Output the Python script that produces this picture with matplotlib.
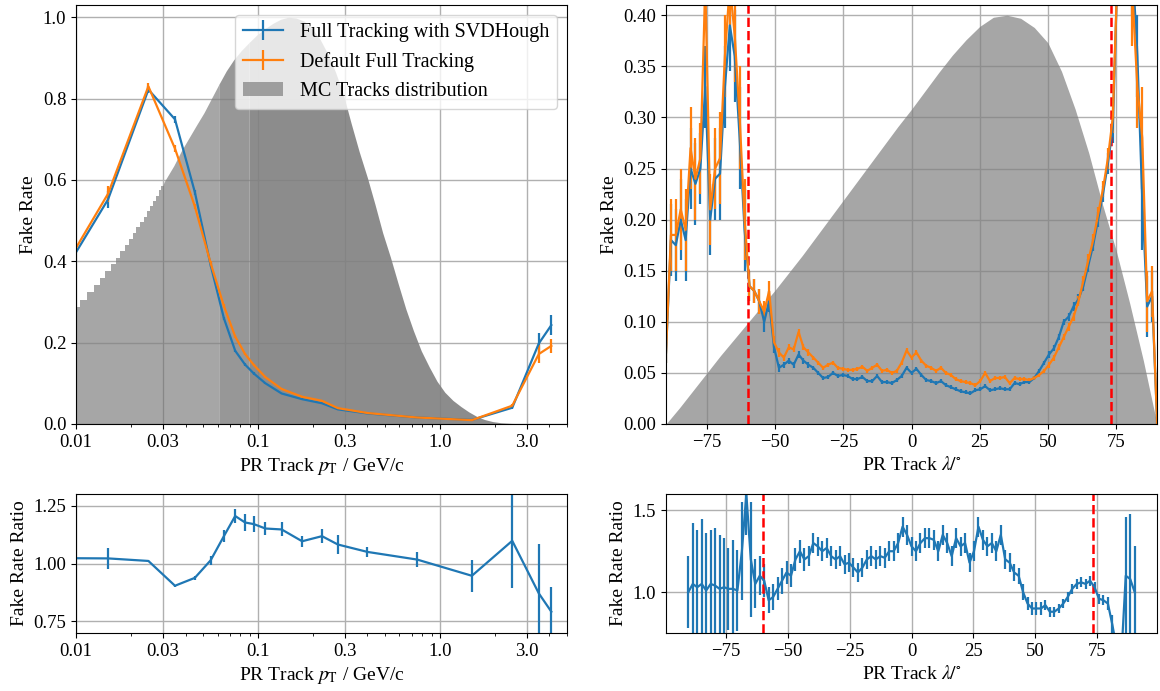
import numpy as np
import matplotlib
matplotlib.use("Agg")
import matplotlib.pyplot as plt
from matplotlib.patches import Patch
from matplotlib.ticker import FixedLocator, NullFormatter, LogLocator

# ---------------------------------------------------------------- data
# Fake rate vs transverse momentum (bin centres in GeV/c)
pt_centers = [0.005, 0.015, 0.025, 0.035, 0.045, 0.055, 0.065, 0.075, 0.085,
              0.095, 0.11, 0.135, 0.175, 0.225, 0.275, 0.4, 0.75, 1.5, 2.5,
              3.5, 4.1]
pt_fake_svd = [0.200, 0.552, 0.822, 0.749, 0.570, 0.390, 0.260, 0.180, 0.146,
               0.124, 0.100, 0.075, 0.061, 0.051, 0.036, 0.026, 0.016, 0.010,
               0.040, 0.198, 0.243]
pt_fake_svd_err = [0.010, 0.020, 0.008, 0.008, 0.006, 0.005, 0.004, 0.003,
                   0.003, 0.003, 0.002, 0.002, 0.002, 0.002, 0.002, 0.001,
                   0.001, 0.001, 0.004, 0.025, 0.025]
pt_fake_def = [0.205, 0.566, 0.830, 0.677, 0.535, 0.395, 0.290, 0.215, 0.172,
               0.145, 0.115, 0.086, 0.067, 0.057, 0.039, 0.027, 0.016, 0.0095,
               0.045, 0.172, 0.192]
pt_fake_def_err = [0.010, 0.020, 0.008, 0.008, 0.006, 0.005, 0.004, 0.003,
                   0.003, 0.003, 0.002, 0.002, 0.002, 0.002, 0.002, 0.001,
                   0.001, 0.001, 0.004, 0.022, 0.018]
pt_ratio = [1.024, 1.022, 1.011, 0.904, 0.938, 1.014, 1.118, 1.205, 1.177,
            1.170, 1.151, 1.147, 1.096, 1.118, 1.082, 1.050, 1.017, 0.947,
            1.098, 0.871, 0.792]
pt_ratio_err = [0.04, 0.045, 0.005, 0.005, 0.010, 0.020, 0.025, 0.032, 0.036,
                0.034, 0.030, 0.030, 0.023, 0.030, 0.040, 0.022, 0.034, 0.070,
                0.205, 0.215, 0.108]

# MC track pT distribution (normalised to its maximum)
mc_pt_fine_centers = [0.010, 0.011, 0.012, 0.013, 0.014, 0.015, 0.016, 0.017,
                      0.018, 0.019, 0.020, 0.021, 0.022, 0.023, 0.024, 0.025,
                      0.026, 0.027, 0.028, 0.029, 0.030]
mc_pt_fine_height = [0.287, 0.306, 0.325, 0.342, 0.358, 0.375, 0.393, 0.409,
                     0.425, 0.440, 0.456, 0.470, 0.484, 0.497, 0.510, 0.523,
                     0.536, 0.549, 0.561, 0.574, 0.586]
mc_pt_fine_width = 0.001
mc_pt_knots = [0.0305, 0.0345, 0.038, 0.042, 0.046, 0.0505, 0.0555, 0.061,
               0.067, 0.0735, 0.081, 0.0895, 0.099, 0.1095, 0.121, 0.1335,
               0.147, 0.162, 0.18, 0.2, 0.22, 0.242, 0.267, 0.295, 0.325,
               0.36, 0.40, 0.44, 0.485, 0.535, 0.59, 0.65, 0.715, 0.79,
               0.875, 0.965, 1.065, 1.18, 1.305, 1.44, 1.59, 1.76, 1.95,
               2.17, 2.45, 2.8, 3.2]
mc_pt_knot_height = [0.595, 0.635, 0.672, 0.705, 0.735, 0.765, 0.800, 0.835,
                     0.868, 0.895, 0.918, 0.938, 0.957, 0.972, 0.985, 0.995,
                     1.000, 0.998, 0.990, 0.970, 0.945, 0.910, 0.865, 0.810,
                     0.740, 0.670, 0.605, 0.540, 0.470, 0.410, 0.345, 0.283,
                     0.230, 0.180, 0.140, 0.105, 0.078, 0.058, 0.043, 0.030,
                     0.019, 0.011, 0.006, 0.003, 0.0015, 0.0007, 0.0]
# bins narrower than a pixel pile up into a darker shade from here on
mc_pt_mid_from = 0.061
mc_pt_dense_from = 0.0895

# Fake rate vs dip angle lambda (degrees), 1.8 degree bins
lam_centers = np.linspace(-90.0, 90.0, 101)
lam_fake_svd = [
    0.070, 0.180, 0.175, 0.200, 0.180, 0.250, 0.235, 0.250, 0.330, 0.200,
    0.240, 0.245, 0.330, 0.390, 0.360, 0.280, 0.190, 0.135, 0.130, 0.120,
    0.100, 0.120, 0.075, 0.055, 0.058, 0.062, 0.058, 0.068, 0.062, 0.058,
    0.055, 0.050, 0.045, 0.046, 0.050, 0.047, 0.048, 0.047, 0.044, 0.044,
    0.046, 0.042, 0.042, 0.047, 0.041, 0.041, 0.040, 0.043, 0.047, 0.055,
    0.050, 0.054, 0.048, 0.043, 0.042, 0.040, 0.042, 0.038, 0.036, 0.034,
    0.032, 0.031, 0.030, 0.033, 0.034, 0.037, 0.033, 0.034, 0.035, 0.034,
    0.034, 0.040, 0.039, 0.041, 0.041, 0.045, 0.052, 0.060, 0.068, 0.074,
    0.085, 0.100, 0.105, 0.115, 0.122, 0.135, 0.155, 0.175, 0.200, 0.225,
    0.255, 0.290, 0.450, 0.550, 0.600, 0.450, 0.360, 0.220, 0.115, 0.125,
    0.005]
lam_fake_def = [
    0.070, 0.185, 0.185, 0.210, 0.190, 0.270, 0.240, 0.260, 0.430, 0.210,
    0.250, 0.260, 0.360, 0.430, 0.380, 0.300, 0.200, 0.135, 0.130, 0.120,
    0.110, 0.130, 0.080, 0.070, 0.065, 0.075, 0.073, 0.090, 0.075, 0.070,
    0.065, 0.060, 0.055, 0.058, 0.060, 0.055, 0.054, 0.053, 0.053, 0.054,
    0.056, 0.052, 0.055, 0.058, 0.052, 0.053, 0.050, 0.052, 0.060, 0.072,
    0.065, 0.070, 0.062, 0.057, 0.055, 0.052, 0.055, 0.050, 0.048, 0.044,
    0.042, 0.041, 0.040, 0.038, 0.042, 0.050, 0.042, 0.045, 0.045, 0.046,
    0.040, 0.045, 0.044, 0.044, 0.043, 0.045, 0.048, 0.052, 0.058, 0.065,
    0.075, 0.085, 0.095, 0.105, 0.120, 0.140, 0.160, 0.180, 0.205, 0.230,
    0.260, 0.300, 0.450, 0.550, 0.600, 0.420, 0.330, 0.280, 0.120, 0.130,
    0.005]
lam_fake_err = [
    0.010, 0.035, 0.035, 0.040, 0.040, 0.040, 0.040, 0.035, 0.040, 0.035,
    0.040, 0.045, 0.040, 0.045, 0.045, 0.050, 0.040, 0.015, 0.012, 0.012,
    0.010, 0.010, 0.006, 0.004, 0.003, 0.003, 0.003, 0.003, 0.003, 0.003,
    0.002, 0.002, 0.002, 0.002, 0.002, 0.002, 0.002, 0.002, 0.002, 0.002,
    0.002, 0.002, 0.002, 0.002, 0.002, 0.002, 0.002, 0.002, 0.002, 0.002,
    0.002, 0.002, 0.002, 0.002, 0.002, 0.002, 0.002, 0.002, 0.002, 0.002,
    0.002, 0.002, 0.002, 0.002, 0.002, 0.002, 0.002, 0.002, 0.002, 0.002,
    0.002, 0.002, 0.002, 0.002, 0.002, 0.002, 0.002, 0.002, 0.003, 0.003,
    0.003, 0.003, 0.004, 0.004, 0.005, 0.005, 0.006, 0.006, 0.007, 0.008,
    0.010, 0.015, 0.040, 0.050, 0.050, 0.050, 0.040, 0.050, 0.030, 0.025,
    0.005]
lam_ratio = [
    1.00, 1.05, 1.03, 1.05, 1.01, 1.05, 1.04, 1.02, 1.03, 1.02,
    1.02, 1.01, 1.25, 1.60, 1.20, 1.05, 1.10, 1.07, 0.95, 0.97,
    1.02, 1.07, 1.12, 1.10, 1.20, 1.25, 1.20, 1.22, 1.30, 1.28,
    1.25, 1.27, 1.22, 1.20, 1.22, 1.17, 1.18, 1.15, 1.12, 1.15,
    1.20, 1.22, 1.20, 1.22, 1.21, 1.25, 1.25, 1.30, 1.40, 1.35,
    1.28, 1.25, 1.30, 1.33, 1.33, 1.32, 1.25, 1.35, 1.30, 1.22,
    1.33, 1.28, 1.30, 1.18, 1.25, 1.40, 1.32, 1.28, 1.30, 1.25,
    1.35, 1.20, 1.18, 1.12, 1.10, 1.00, 0.93, 0.90, 0.90, 0.90,
    0.92, 0.88, 0.88, 0.90, 0.93, 0.97, 1.02, 1.05, 1.06, 1.05,
    1.07, 1.03, 0.96, 0.95, 0.93, 0.80, 0.65, 0.60, 1.10, 1.08,
    1.00]
lam_ratio_err = [
    0.22, 0.37, 0.35, 0.40, 0.35, 0.33, 0.35, 0.33, 0.30, 0.25,
    0.30, 0.25, 0.30, 0.25, 0.35, 0.15, 0.12, 0.10, 0.08, 0.08,
    0.07, 0.08, 0.07, 0.07, 0.07, 0.07, 0.07, 0.06, 0.06, 0.06,
    0.06, 0.06, 0.06, 0.06, 0.06, 0.06, 0.06, 0.06, 0.06, 0.06,
    0.06, 0.06, 0.06, 0.06, 0.06, 0.06, 0.06, 0.06, 0.06, 0.06,
    0.06, 0.06, 0.06, 0.06, 0.06, 0.06, 0.06, 0.06, 0.06, 0.06,
    0.06, 0.06, 0.06, 0.06, 0.06, 0.06, 0.06, 0.06, 0.06, 0.06,
    0.06, 0.06, 0.06, 0.05, 0.05, 0.05, 0.04, 0.04, 0.04, 0.04,
    0.03, 0.03, 0.03, 0.03, 0.03, 0.03, 0.03, 0.03, 0.03, 0.03,
    0.03, 0.03, 0.03, 0.03, 0.04, 0.06, 0.10, 0.15, 0.36, 0.40,
    0.28]

# MC track lambda distribution (arbitrary scale)
mc_lam_x = [-90, -85, -80, -75, -70, -65, -60, -55, -50, -45, -40, -35, -30,
            -25, -20, -15, -10, -5, 0, 5, 10, 15, 20, 25, 30, 35, 40, 45, 50,
            55, 60, 65, 70, 75, 80, 85, 90]
mc_lam_height = [0.0, 0.016, 0.033, 0.050, 0.067, 0.083, 0.099, 0.115, 0.131,
                 0.148, 0.165, 0.183, 0.201, 0.219, 0.237, 0.255, 0.273,
                 0.291, 0.308, 0.326, 0.344, 0.361, 0.376, 0.389, 0.398,
                 0.400, 0.397, 0.388, 0.373, 0.345, 0.308, 0.265, 0.215,
                 0.170, 0.118, 0.062, 0.0]

acceptance_lam = [-60.0, 73.0]

pt_ticks = [0.01, 0.03, 0.1, 0.3, 1.0, 3.0]
pt_tick_labels = ["0.01", "0.03", "0.1", "0.3", "1.0", "3.0"]
lam_ticks = [-75, -50, -25, 0, 25, 50, 75]

# ---------------------------------------------------------------- style
plt.rcParams["font.family"] = ["Liberation Serif", "DejaVu Serif"]
plt.rcParams["mathtext.fontset"] = "stix"
plt.rcParams["font.size"] = 14
plt.rcParams["xtick.labelsize"] = 13.5
plt.rcParams["ytick.labelsize"] = 13.5

BLUE = "#1f77b4"
ORANGE = "#ff7f0e"
MC_GREY = "grey"
LW = 1.6

W, H = 1160, 691
fig = plt.figure(figsize=(W / 100, H / 100), dpi=100)


def add_axes(left, top, right, bottom):
    return fig.add_axes([left / W, 1 - bottom / H, (right - left) / W,
                         (bottom - top) / H])


ax_pt = add_axes(76, 5, 567, 424)
ax_lam = add_axes(666, 5, 1157, 424)
ax_ptr = add_axes(76, 494, 567, 633)
ax_lamr = add_axes(666, 494, 1157, 633)

for ax in (ax_pt, ax_lam, ax_ptr, ax_lamr):
    ax.set_axisbelow(True)
    ax.grid(True, color="#b0b0b0", linewidth=1.0)

xlabel_pt = r"PR Track $p_\mathrm{T}$ / GeV/c"
xlabel_lam = r"PR Track $\lambda/^{\circ}$"

# --- top left: fake rate vs pT with MC distribution
ax_pt.set_xscale("log")
fine_c = np.asarray(mc_pt_fine_centers)
fine_h = np.asarray(mc_pt_fine_height)
ax_pt.bar(fine_c, fine_h, width=mc_pt_fine_width,
          color=MC_GREY, alpha=0.7, linewidth=0)
knots = np.asarray(mc_pt_knots)
kh = np.asarray(mc_pt_knot_height)
seg_light = knots <= mc_pt_mid_from
seg_mid = (knots >= mc_pt_mid_from) & (knots <= mc_pt_dense_from)
seg_dense = knots >= mc_pt_dense_from


def shade(xs, ys, alpha):
    ax_pt.fill_between(xs, ys, color=MC_GREY, alpha=alpha, linewidth=0)


shade(np.r_[fine_c[-1], knots[seg_light]], np.r_[fine_h[-1], kh[seg_light]],
      0.7)
shade(knots[seg_mid], kh[seg_mid], 0.82)
shade(knots[seg_dense], kh[seg_dense], 0.9)

h_svd = ax_pt.errorbar(pt_centers, pt_fake_svd, yerr=pt_fake_svd_err,
                       color=BLUE, lw=LW, label="Full Tracking with SVDHough")
h_def = ax_pt.errorbar(pt_centers, pt_fake_def, yerr=pt_fake_def_err,
                       color=ORANGE, lw=LW, label="Default Full Tracking")
mc_patch = Patch(facecolor=MC_GREY, alpha=0.7, label="MC Tracks distribution")
ax_pt.legend(handles=[h_svd, h_def, mc_patch], loc="upper right",
             fontsize=14.5, borderaxespad=0.5)
ax_pt.set_xlim(0.01, 5.0)
ax_pt.set_ylim(0.0, 1.03)
ax_pt.set_yticks([0.0, 0.2, 0.4, 0.6, 0.8, 1.0])
ax_pt.set_ylabel("Fake Rate")
ax_pt.set_xlabel(xlabel_pt)

# --- bottom left: ratio vs pT
ax_ptr.set_xscale("log")
ax_ptr.errorbar(pt_centers, pt_ratio, yerr=pt_ratio_err, color=BLUE, lw=LW)
ax_ptr.set_xlim(0.01, 5.0)
ax_ptr.set_ylim(0.70, 1.30)
ax_ptr.set_yticks([0.75, 1.00, 1.25])
ax_ptr.set_ylabel("Fake Rate Ratio")
ax_ptr.set_xlabel(xlabel_pt)

for ax in (ax_pt, ax_ptr):
    ax.xaxis.set_major_locator(FixedLocator(pt_ticks))
    ax.set_xticklabels(pt_tick_labels)
    ax.xaxis.set_minor_locator(LogLocator(base=10, subs=np.arange(2, 10)))
    ax.xaxis.set_minor_formatter(NullFormatter())

# --- top right: fake rate vs lambda with MC distribution
ax_lam.fill_between(mc_lam_x, mc_lam_height, color=MC_GREY, alpha=0.7,
                    linewidth=0)
ax_lam.errorbar(lam_centers, lam_fake_svd, yerr=lam_fake_err, color=BLUE,
                lw=LW)
ax_lam.errorbar(lam_centers, lam_fake_def, yerr=lam_fake_err, color=ORANGE,
                lw=LW)
for v in acceptance_lam:
    ax_lam.axvline(v, color="red", ls="--", lw=1.8)
ax_lam.set_xlim(-90, 90)
ax_lam.set_ylim(0.0, 0.41)
ax_lam.set_xticks(lam_ticks)
ax_lam.set_yticks(np.arange(0, 0.41, 0.05))
ax_lam.yaxis.set_major_formatter(plt.FormatStrFormatter("%.2f"))
ax_lam.set_ylabel("Fake Rate")
ax_lam.set_xlabel(xlabel_lam)

# --- bottom right: ratio vs lambda
ax_lamr.errorbar(lam_centers, lam_ratio, yerr=lam_ratio_err, color=BLUE,
                 lw=LW)
for v in acceptance_lam:
    ax_lamr.axvline(v, color="red", ls="--", lw=1.8)
ax_lamr.set_ylim(0.75, 1.6)
ax_lamr.set_yticks([1.0, 1.5])
ax_lamr.set_xticks(lam_ticks)
ax_lamr.set_ylabel("Fake Rate Ratio")
ax_lamr.set_xlabel(xlabel_lam)

fig.savefig("out.png", dpi=100)
